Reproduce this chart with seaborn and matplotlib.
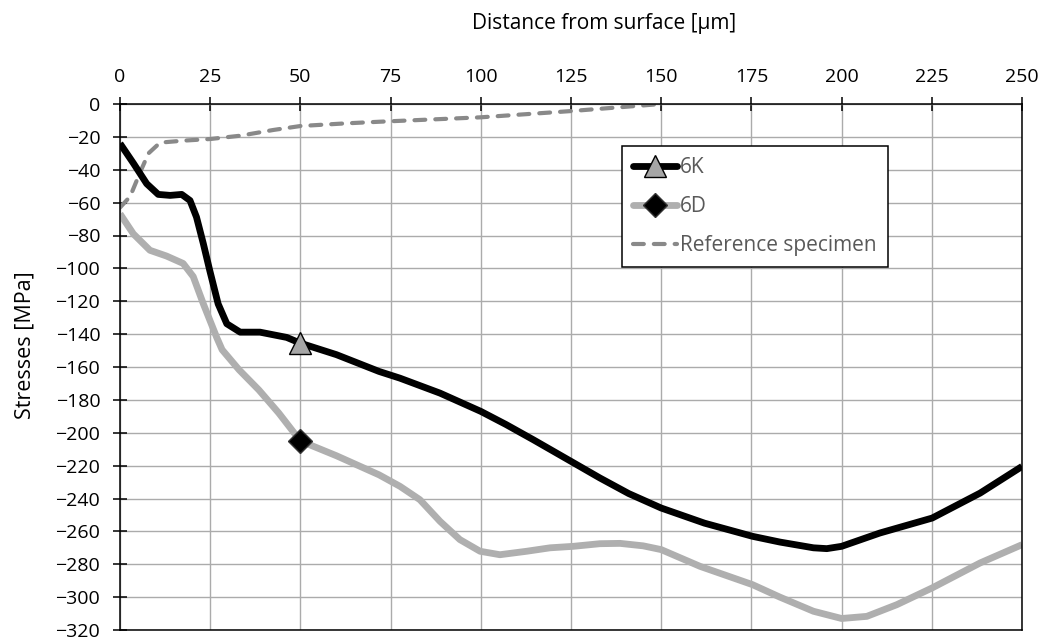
### Residual stress profiles vs depth

### Libraries
import matplotlib
matplotlib.use("Agg")
import matplotlib.pyplot as plt
from matplotlib.lines import Line2D
import seaborn as sns

### Step 1: Data
depth_6k = [0, 3.7, 7.4, 10.6, 13.9, 17.1, 19.4, 21.2, 23.1, 24.9, 27.2, 29.6, 33.3,
            38.8, 46.2, 50, 60, 71.8, 77.6, 88.7, 100, 107, 114.6, 125, 133, 141, 150, 162,
            175.3, 182.9, 192.2, 195.9, 200, 210.6, 225.1, 238.4, 250]
stress_6k = [-24, -36, -48.5, -55, -55.6, -55, -58.7, -68.8, -85, -101.5, -121.6, -133.7, -138.8,
             -138.8, -142, -145.5, -152.5, -162.7, -166.8, -175.9, -187, -195, -204.3, -217.4, -227.5, -237, -245.8, -255,
             -263, -266.5, -270, -270.5, -269.1, -261, -251.9, -236.7, -220.5]

depth_6d = [0, 3.7, 8.3, 12.9, 17.5, 20.3, 23.1, 26.8, 28.3, 33, 38.5, 44, 50, 60,
            71.8, 77.6, 83.1, 88.7, 94.2, 99.8, 105.3, 112.7, 119.2, 125.6, 133, 138.6, 145, 150, 160.8,
            175.3, 182.9, 192.2, 200, 207, 215.3, 225.1, 238.4, 250]
stress_6d = [-66.8, -79, -89, -92.5, -97, -105, -121.6, -142, -149.5, -161.7, -174, -188, -205, -214,
             -225.6, -232.6, -240.7, -253.9, -265, -272.1, -274.2, -272.1, -270, -269.1, -267.5, -267.3, -268.8, -271.1, -281.3,
             -292.4, -300, -308.6, -313, -311.7, -304.6, -294.4, -279.2, -268.1]

depth_ref = [0, 2.8, 5.5, 7.9, 11.1, 17.5, 25, 33.3, 42.5, 50, 62.4, 71.8, 100, 125, 150]
stress_ref = [-63, -56.3, -42, -30, -23.5, -22.3, -21.3, -19.3, -15.8, -13.4, -11.8, -10.8, -8.1, -4.3, 0]

marker_depth = 50
x_ticks = list(range(0, 251, 25))
y_ticks = list(range(-320, 1, 20))

### Step 2: Style
sns.set_style("white")
plt.rcParams["font.family"] = ["Open Sans", "DejaVu Sans"]

black = "#000000"
light_gray = "#afafaf"
ref_gray = "#898989"
grid_gray = "#ababab"
line_w = 4.9

fig = plt.figure(figsize=(10.45, 6.39), dpi=100)
ax = fig.add_axes([120 / 1045, 1 - 630 / 639, 902 / 1045, 526 / 639])

### Step 3: Lines
sns.lineplot(x=depth_ref, y=stress_ref, ax=ax, sort=False, color=ref_gray, lw=3.0,
             dashes=False, zorder=3)
ax.lines[-1].set_dashes((2.6, 2.4))
ax.lines[-1].set_dash_capstyle("round")

sns.lineplot(x=depth_6d, y=stress_6d, ax=ax, sort=False, color=light_gray, lw=line_w,
             marker="D", markersize=12, markerfacecolor=black, markeredgecolor="#333333",
             markeredgewidth=1.0, markevery=[depth_6d.index(marker_depth)],
             solid_capstyle="butt", solid_joinstyle="round", zorder=4)

sns.lineplot(x=depth_6k, y=stress_6k, ax=ax, sort=False, color=black, lw=line_w,
             marker="^", markersize=16, markerfacecolor="#a6a6a6", markeredgecolor=black,
             markeredgewidth=1.0, markevery=[depth_6k.index(marker_depth)],
             solid_capstyle="butt", solid_joinstyle="round", zorder=5)

### Step 4: Axes
ax.set_xlim(0, 250)
ax.set_ylim(-320, 0)
ax.xaxis.tick_top()
ax.xaxis.set_label_position("top")
ax.set_xticks(x_ticks)
ax.set_yticks(y_ticks)
ax.tick_params(axis="both", direction="inout", length=10.5, width=1.1, color=black,
               labelsize=14, labelcolor="#000000")
ax.tick_params(axis="x", pad=8, top=True, bottom=False)
ax.tick_params(axis="y", pad=9, left=True, right=False)
ax.grid(True, color=grid_gray, lw=1.0)
for side in ["top", "left", "right", "bottom"]:
    ax.spines[side].set_color(black)
    ax.spines[side].set_linewidth(1.1)
    ax.spines[side].set_zorder(6)

ax.set_xlabel("Distance from surface [µm]", fontsize=15, color="#000000", va="center")
ax.xaxis.set_label_coords((604 - 120) / 902, (630 - 23) / 526)
ax.set_ylabel("Stresses [MPa]", fontsize=15.5, color="#000000", va="center")
ax.yaxis.set_label_coords((25 - 120) / 902, (630 - 345) / 526)

### Step 5: Legend
handles = [
    Line2D([], [], color=black, lw=line_w, marker="^", markersize=16, markerfacecolor="#a6a6a6",
           markeredgecolor=black, markeredgewidth=1.0),
    Line2D([], [], color=light_gray, lw=line_w, marker="D", markersize=12, markerfacecolor=black,
           markeredgecolor="#333333", markeredgewidth=1.0),
    Line2D([], [], color=ref_gray, lw=3.0, dashes=(2.6, 2.4), dash_capstyle="round"),
]
leg = ax.legend(handles, ["6K", "6D", "Reference specimen"], loc="upper left",
                bbox_to_anchor=((622 - 120) / 902, (630 - 146) / 526), borderaxespad=0,
                frameon=True, fancybox=False, edgecolor=black, framealpha=1,
                fontsize=15, labelcolor="#595959", handlelength=2.1, handletextpad=0.15,
                labelspacing=0.85, borderpad=0.55)
leg.get_frame().set_linewidth(1.1)
leg.set_zorder(10)

fig.savefig("out.png", dpi=100)
